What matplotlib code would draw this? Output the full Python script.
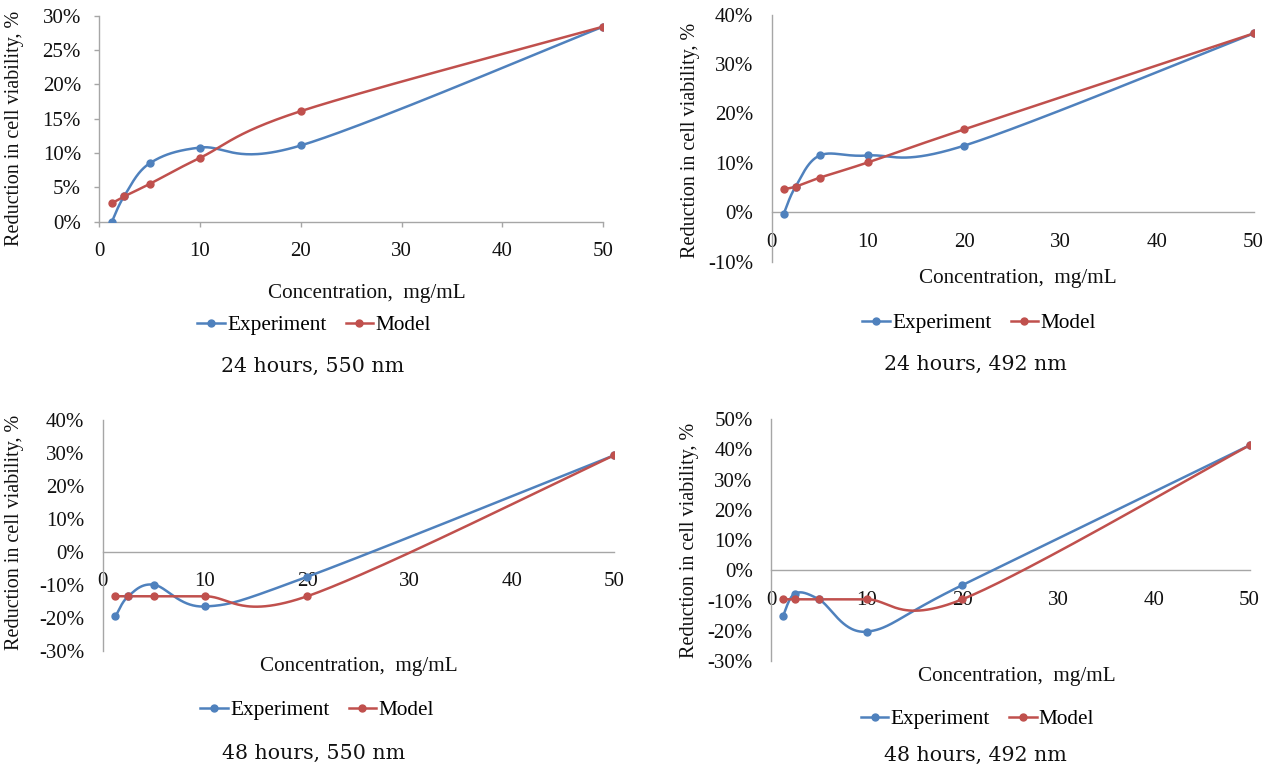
import numpy as np
import matplotlib
matplotlib.use("Agg")
import matplotlib.pyplot as plt
from matplotlib.ticker import FuncFormatter, MultipleLocator
from matplotlib.lines import Line2D

W, H = 1274, 769

# ---------------- data ----------------
conc = [1.25, 2.5, 5, 10, 20, 50]            # mg/mL
exp_24_550 = [0.0, 3.8, 8.5, 10.8, 11.1, 28.4]  # %
mod_24_550 = [2.7, 3.7, 5.5, 9.3, 16.1, 28.4]
exp_24_492 = [-0.4, 5.2, 11.5, 11.5, 13.5, 36.2]
mod_24_492 = [4.7, 5.2, 7.0, 10.1, 16.8, 36.2]
exp_48_550 = [-19.6, -13.5, -10.0, -16.6, -7.6, 29.2]
mod_48_550 = [-13.5, -13.5, -13.5, -13.5, -13.5, 29.2]
exp_48_492 = [-15.2, -7.7, -9.6, -20.3, -4.9, 41.3]
mod_48_492 = [-9.6, -9.6, -9.6, -9.6, -9.6, 41.3]
titles = ["24 hours, 550 nm", "24 hours, 492 nm", "48 hours, 550 nm", "48 hours, 492 nm"]
series_names = ["Experiment", "Model"]
xlabel_text = "Concentration,  mg/mL"
ylabel_text = "Reduction in cell viability, %"

BLUE = "#4F81BD"
RED = "#C0504D"
AXC = "#A6A6A6"
TXT = "#111111"
FONT = "Liberation Serif"
SUBFONT = "DejaVu Serif"

# layout (pixels): axes rect (left, top, right, bottom), label centres
panels = [
    dict(rect=(99.3, 15.7, 603.0, 221.7), ylim=(0, 30), step=5, ticks=True,
         ylab=(15, 128), xlab=(367, 293), leg=(314, 325.5), sub=(313, 366),
         exp=exp_24_550, mod=mod_24_550, title=titles[0]),
    dict(rect=(771.5, 14.7, 1253.5, 261.7), ylim=(-10, 40), step=10, ticks=False,
         ylab=(691, 140), xlab=(1018, 278), leg=(979, 323.5), sub=(975, 364),
         exp=exp_24_492, mod=mod_24_492, title=titles[1]),
    dict(rect=(102.7, 419.7, 614.0, 650.7), ylim=(-30, 40), step=10, ticks=False,
         ylab=(15, 532), xlab=(359, 666.5), leg=(317, 710.5), sub=(314, 753),
         exp=exp_48_550, mod=mod_48_550, title=titles[2]),
    dict(rect=(771.0, 419.0, 1249.5, 661.0), ylim=(-30, 50), step=10, ticks=False,
         ylab=(689, 540), xlab=(1017, 676), leg=(977.5, 719), sub=(975, 755),
         exp=exp_48_492, mod=mod_48_492, title=titles[3]),
]

LW = 1.8
MS = 5.0


def fx(px):
    return px / W


def fy(py):
    return 1 - py / H


def smooth_plot(ax, x, y, color):
    """Excel-like smoothed line (Catmull-Rom Bezier in display space)."""
    pts = ax.transData.transform(np.column_stack([x, y]))
    n = len(pts)
    curve = []
    for i in range(n - 1):
        p0 = pts[i - 1] if i > 0 else pts[i]
        p1 = pts[i]
        p2 = pts[i + 1]
        p3 = pts[i + 2] if i + 2 < n else pts[i + 1]
        c1 = p1 + (p2 - p0) / 6.0
        c2 = p2 - (p3 - p1) / 6.0
        t = np.linspace(0, 1, 60)[:, None]
        seg = ((1 - t) ** 3) * p1 + 3 * ((1 - t) ** 2) * t * c1 + 3 * (1 - t) * t ** 2 * c2 + t ** 3 * p2
        curve.append(seg if i == 0 else seg[1:])
    curve = np.vstack(curve)
    data = ax.transData.inverted().transform(curve)
    ax.plot(data[:, 0], data[:, 1], color=color, lw=LW, solid_capstyle="round", zorder=3)
    ax.plot(x, y, "o", color=color, ms=MS, zorder=4)


fig = plt.figure(figsize=(W / 100, H / 100), dpi=100)

pct = FuncFormatter(lambda v, p: f"{int(round(v))}%")

for P in panels:
    l, t, r, b = P["rect"]
    ax = fig.add_axes([fx(l), fy(b), (r - l) / W, (b - t) / H])
    ax.set_xlim(0, 50)
    ax.set_ylim(*P["ylim"])
    ax.xaxis.set_major_locator(MultipleLocator(10))
    ax.yaxis.set_major_locator(MultipleLocator(P["step"]))
    ax.yaxis.set_major_formatter(pct)
    for s in ["top", "right"]:
        ax.spines[s].set_visible(False)
    for s in ["left", "bottom"]:
        ax.spines[s].set_color(AXC)
        ax.spines[s].set_linewidth(1.0)
    ax.spines["bottom"].set_position(("data", 0))
    if P["ticks"]:
        ax.tick_params(axis="both", direction="out", length=3.6, width=1.0, color=AXC)
        ax.tick_params(axis="x", pad=11.2)
        ax.tick_params(axis="y", pad=9.6)
    else:
        ax.tick_params(axis="both", length=0)
        ax.tick_params(axis="x", pad=14.7)
        ax.tick_params(axis="y", pad=13.2)
    for lab in ax.get_xticklabels() + ax.get_yticklabels():
        lab.set_fontfamily(FONT)
        lab.set_fontsize(15)
        lab.set_color(TXT)
    ax.patch.set_visible(False)

    smooth_plot(ax, conc, P["exp"], BLUE)
    smooth_plot(ax, conc, P["mod"], RED)

    fig.text(fx(P["ylab"][0]), fy(P["ylab"][1]), ylabel_text, rotation=90,
             ha="center", va="center", family=FONT, fontsize=14.5, color=TXT)
    fig.text(fx(P["xlab"][0]), fy(P["xlab"][1]), xlabel_text,
             ha="center", va="center", family=FONT, fontsize=15.2, color=TXT)
    handles = [Line2D([], [], color=BLUE, lw=LW, marker="o", ms=MS),
               Line2D([], [], color=RED, lw=LW, marker="o", ms=MS)]
    fig.legend(handles, series_names, loc="center", ncol=2, frameon=False,
               bbox_to_anchor=(fx(P["leg"][0]), fy(P["leg"][1])),
               prop=dict(family=FONT, size=15.3), handlelength=1.3, handletextpad=0.1,
               columnspacing=0.9, borderpad=0, borderaxespad=0)
    fig.text(fx(P["sub"][0]), fy(P["sub"][1]), P["title"],
             ha="center", va="center", family=SUBFONT, fontsize=14.8, color=TXT)

fig.savefig("out.png", dpi=100, facecolor="white")
